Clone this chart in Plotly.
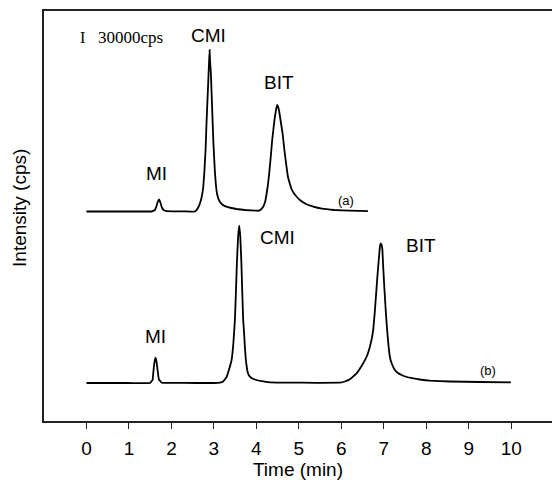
import plotly.graph_objects as go

# ---- data (time in min, intensity in arbitrary units above each trace's baseline) ----
time_a = [0.0, 0.5, 1.0, 1.4928, 1.540, 1.6105, 1.6459, 1.6765, 1.7094, 1.7400, 1.7754,
          1.8225, 1.8931, 2.0108, 2.3, 2.5524, 2.5924, 2.6301, 2.6701, 2.7101, 2.7478,
          2.7761, 2.8043, 2.8232, 2.8420, 2.8585, 2.8750, 2.8867, 2.8985, 2.9103, 2.9291,
          2.9433, 2.9574, 2.9715, 2.9856, 3.0045, 3.0233, 3.0469, 3.0775, 3.1293, 3.2117,
          3.3294, 3.5343, 3.7297, 4.0052, 4.0594, 4.1065, 4.1606, 4.2077, 4.2548, 4.2783,
          4.3019, 4.3372, 4.3725, 4.4055, 4.4361, 4.4667, 4.4903, 4.5138, 4.5373, 4.5774,
          4.6174, 4.6598, 4.7092, 4.7422, 4.7846, 4.8317, 4.8835, 4.9541, 5.0247, 5.1660,
          5.3402, 5.5427, 5.8371, 6.2020, 6.6258]
int_a = [0, 0, 0, 0, 0.2, 1.5, 5, 9.5, 12, 9, 4,
         1.2, 0.4, 0.2, 0.2, 0, 1.5, 4, 8, 14, 24,
         40, 62, 85, 104.8, 121, 138.2, 150, 161.5, 150, 138.2,
         121, 104.8, 88, 71.5, 55, 40, 27, 17, 10.5, 6.5,
         4.3, 2.5, 1.5, 0.8, 0.8, 2, 4.8, 10, 21.5, 29,
         38.2, 54, 71.5, 84, 94.8, 102.5, 106.5, 104.5, 100, 89,
         78, 61.5, 44.8, 35, 28.2, 22, 18.2, 14.5, 11.5, 7.5,
         4.8, 2.8, 1.5, 0.8, 0.3]

time_b = [0.0, 0.5, 1.0, 1.4928, 1.5564, 1.5705, 1.5870, 1.6059, 1.6270, 1.6459, 1.6647,
          1.6859, 1.7047, 1.7683, 2.0, 2.6, 3.0, 3.1410, 3.2187, 3.2988, 3.3529, 3.4165,
          3.4589, 3.4943, 3.5178, 3.5413, 3.5696, 3.5955, 3.6214, 3.6473, 3.6685, 3.6897,
          3.7109, 3.7297, 3.7485, 3.7697, 3.8003, 3.8474, 3.9180, 4.0052, 4.1300, 4.3183,
          4.7893, 5.4, 5.9666, 6.0843,
          6.2020, 6.3598, 6.5152, 6.6023, 6.6729, 6.7200, 6.7506, 6.7860, 6.8142, 6.8378,
          6.8613, 6.8849, 6.9084, 6.9249, 6.9390, 6.9508, 6.9673, 6.9838, 7.0026, 7.0262,
          7.0497, 7.0803, 7.1133, 7.1439, 7.1839, 7.2616, 7.3323, 7.4194, 7.5442, 7.6925,
          7.8503, 8.0857, 8.5567, 9.2630, 9.9929]
int_b = [0, 0, 0, 0, 3, 9, 16.3, 22, 25.3, 22, 16.3,
         9, 3.7, 0.3, 0.1, 0, 0, 0.3, 1.5, 6, 13, 23,
         40, 63, 90, 120, 146, 157.3, 146, 120, 90, 63,
         50, 36, 25, 17, 10, 6.3, 4.2, 3, 1.8, 0.7,
         0.4, 0.2, 0.3, 1.5,
         3.7, 9.7, 19.7, 27, 36.3, 45, 53, 70, 86.3, 100,
         113, 125, 136.3, 139.7, 138, 138.5, 133, 118, 103, 86,
         69.7, 52, 36.3, 26, 19.7, 13, 10, 8, 6, 4.7,
         3.5, 2.3, 1.5, 1, 0.7]

offset_a = 209.5
offset_b = 38.0

peak_labels = ["MI", "CMI", "BIT", "(a)", "MI", "CMI", "BIT", "(b)"]
label_t = [1.658, 2.870, 4.542, 6.108, 1.634, 4.507, 7.875, 9.463]
label_y = [247.5, 386.0, 338.5, 220.5, 85.0, 183.5, 175.5, 51.0]
label_size = [19, 19, 19, 13, 19, 19, 19, 13]

x_ticks = list(range(0, 11))

fig = go.Figure()
for t, h, off in [(time_a, int_a, offset_a), (time_b, int_b, offset_b)]:
    fig.add_trace(go.Scatter(
        x=t, y=[v + off for v in h], mode="lines",
        line=dict(color="black", width=1.8, shape="spline", smoothing=0.2),
        showlegend=False, hoverinfo="skip"))

for txt, x, y, s in zip(peak_labels, label_t, label_y, label_size):
    fig.add_annotation(x=x, y=y, text=txt, showarrow=False,
                       xanchor="center", yanchor="middle",
                       font=dict(family="Liberation Sans, Arial", size=s, color="black"))

# scale bar text
fig.add_annotation(x=-0.097, y=384, text="I", showarrow=False, xanchor="center", yanchor="middle",
                   font=dict(family="Liberation Serif, Times New Roman", size=16, color="black"))
fig.add_annotation(x=1.045, y=384, text="30000cps", showarrow=False, xanchor="center",
                   yanchor="middle",
                   font=dict(family="Liberation Serif, Times New Roman", size=17, color="black"))

# y-axis title
fig.add_annotation(xref="paper", yref="paper", x=-0.047, y=0.52, text="Intensity (cps)",
                   textangle=-90, showarrow=False, xanchor="center", yanchor="middle",
                   font=dict(family="Liberation Sans, Arial", size=19, color="black"))

fig.update_layout(
    width=552, height=480,
    margin=dict(l=44, r=0, t=11, b=59),
    paper_bgcolor="white", plot_bgcolor="white",
    font=dict(family="Liberation Sans, Arial", color="black"),
    xaxis=dict(range=[-1.0, 10.96], tickvals=x_ticks, ticktext=[str(v) for v in x_ticks],
               ticks="outside", ticklen=6, tickwidth=1.3, tickcolor="#222",
               showline=True, linecolor="#222", linewidth=1.6, mirror=True,
               showgrid=False, zeroline=False, ticklabelstandoff=3,
               tickfont=dict(size=19),
               title=dict(text="Time (min)", font=dict(size=19), standoff=7)),
    yaxis=dict(range=[0, 410], showticklabels=False, ticks="",
               showline=True, linecolor="#222", linewidth=1.6, mirror=False,
               showgrid=False, zeroline=False),
)

fig.write_html("out.html")
